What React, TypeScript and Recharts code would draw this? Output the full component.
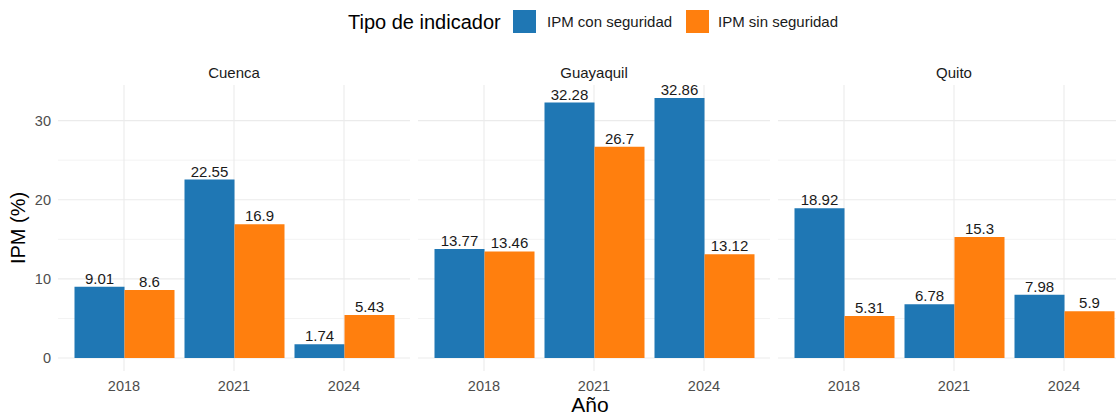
import { BarChart, Bar, XAxis, YAxis, CartesianGrid, LabelList } from 'recharts'

const years = ['2018', '2021', '2024']
const cities = ['Cuenca', 'Guayaquil', 'Quito']
const conSeguridad = [
  [9.01, 22.55, 1.74],
  [13.77, 32.28, 32.86],
  [18.92, 6.78, 7.98],
]
const sinSeguridad = [
  [8.6, 16.9, 5.43],
  [13.46, 26.7, 13.12],
  [5.31, 15.3, 5.9],
]
const yTicks = [0, 10, 20, 30]
const yMinor = [5, 15, 25]

const BLUE = '#1f77b4'
const ORANGE = '#ff7f0e'
const FONT = '"Liberation Sans", Arial, sans-serif'

const PANEL_W = 352
const PANEL_TOP = 85
const PLOT_H = 286
const AXIS_W = 58
const panelLefts = [58, 418, 778]

function Panel({ idx }: { idx: number }) {
  const data = years.map((y, i) => ({ year: y, con: conSeguridad[idx][i], sin: sinSeguridad[idx][i] }))
  const first = idx === 0
  const left = first ? panelLefts[0] - AXIS_W : panelLefts[idx]
  const width = first ? PANEL_W + AXIS_W : PANEL_W
  return (
    <div style={{ position: 'absolute', left, top: PANEL_TOP, width, height: 414 - PANEL_TOP, overflow: 'hidden' }}>
      <BarChart
        width={width}
        height={414 - PANEL_TOP}
        data={data}
        margin={{ top: 0, right: 0, bottom: 0, left: 0 }}
        barCategoryGap="5%"
        barGap={0}
      >
        <CartesianGrid horizontalValues={yMinor} vertical={false} syncWithTicks stroke="#f3f3f3" strokeWidth={1} />
        <CartesianGrid syncWithTicks stroke="#ebebeb" strokeWidth={1.1} />
        <XAxis
          dataKey="year"
          height={414 - PANEL_TOP - PLOT_H}
          padding={{ left: 11, right: 11 }}
          axisLine={false}
          tickLine={false}
          tickMargin={4}
          tick={{ fontSize: 14.5, fill: '#4d4d4d', fontFamily: FONT }}
        />
        <YAxis
          hide={!first}
          width={AXIS_W}
          type="number"
          domain={[-1.643, 34.503]}
          ticks={yTicks}
          allowDataOverflow
          axisLine={false}
          tickLine={false}
          tickMargin={1}
          tick={{ fontSize: 14.5, fill: '#4d4d4d', fontFamily: FONT }}
        />
        <Bar dataKey="con" fill={BLUE} isAnimationActive={false}>
          <LabelList dataKey="con" position="top" offset={3} fill="#1a1a1a" fontSize={15} fontFamily={FONT} />
        </Bar>
        <Bar dataKey="sin" fill={ORANGE} isAnimationActive={false}>
          <LabelList dataKey="sin" position="top" offset={3} fill="#1a1a1a" fontSize={15} fontFamily={FONT} />
        </Bar>
      </BarChart>
    </div>
  )
}

export default function App() {
  return (
    <div
      style={{
        position: 'absolute',
        left: 0,
        top: 0,
        width: 1116,
        height: 414,
        overflow: 'hidden',
        background: '#ffffff',
        fontFamily: FONT,
      }}
    >
      {/* legend */}
      <div style={{ position: 'absolute', left: 348, top: 10, fontSize: 20, lineHeight: '24px', color: '#000' }}>
        Tipo de indicador
      </div>
      <div style={{ position: 'absolute', left: 513, top: 10, width: 23, height: 23, background: BLUE }} />
      <div style={{ position: 'absolute', left: 547, top: 12, fontSize: 15, lineHeight: '20px', color: '#1a1a1a' }}>
        IPM con seguridad
      </div>
      <div style={{ position: 'absolute', left: 686, top: 10, width: 23, height: 23, background: ORANGE }} />
      <div style={{ position: 'absolute', left: 718, top: 12, fontSize: 15, lineHeight: '20px', color: '#1a1a1a' }}>
        IPM sin seguridad
      </div>

      {/* facet strips */}
      {cities.map((c, i) => (
        <div
          key={c}
          style={{
            position: 'absolute',
            left: panelLefts[i],
            top: 63,
            width: PANEL_W,
            textAlign: 'center',
            fontSize: 15,
            lineHeight: '20px',
            color: '#1a1a1a',
          }}
        >
          {c}
        </div>
      ))}

      {cities.map((c, i) => (
        <Panel key={c} idx={i} />
      ))}

      {/* axis titles */}
      <div
        style={{
          position: 'absolute',
          left: 18 - 50,
          top: PANEL_TOP + PLOT_H / 2 - 12,
          width: 100,
          height: 24,
          lineHeight: '24px',
          textAlign: 'center',
          fontSize: 20,
          color: '#000',
          transform: 'rotate(-90deg)',
        }}
      >
        IPM (%)
      </div>
      <div
        style={{
          position: 'absolute',
          left: 540,
          top: 393,
          width: 100,
          textAlign: 'center',
          fontSize: 21,
          lineHeight: '24px',
          color: '#000',
        }}
      >
        Año
      </div>
    </div>
  )
}
